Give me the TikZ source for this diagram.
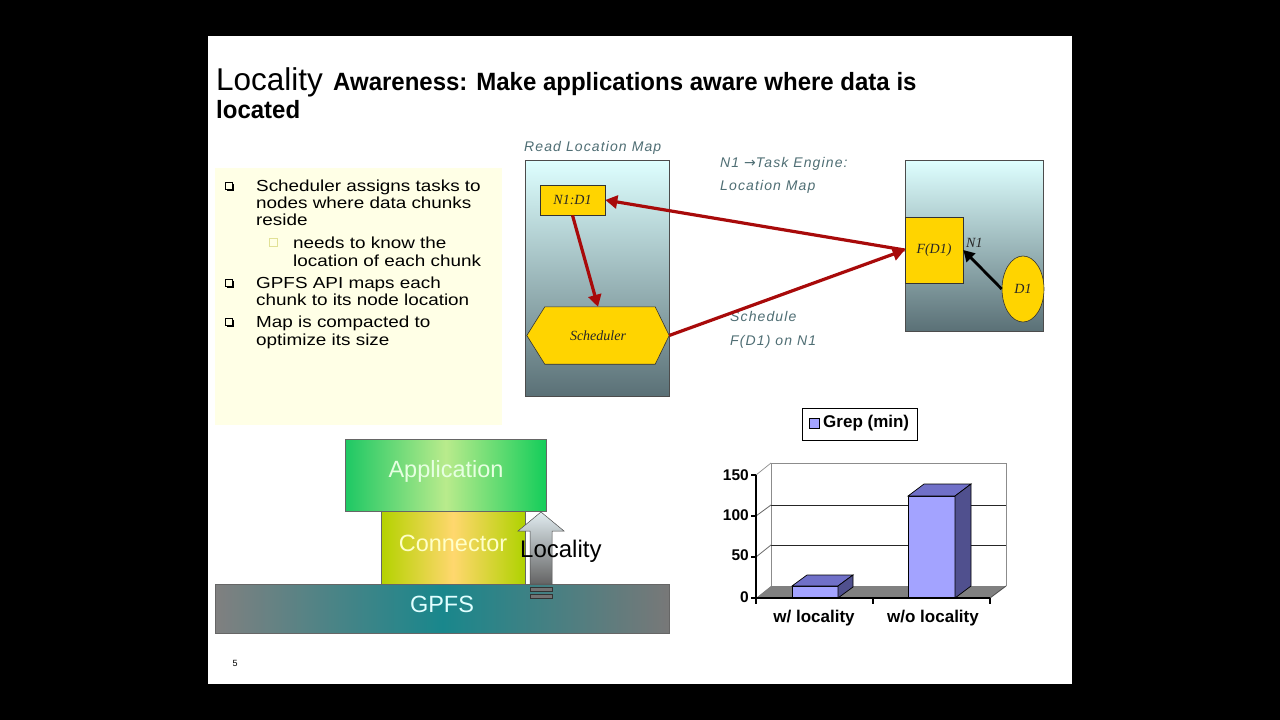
\documentclass[tikz,border=0pt]{standalone}
\usepackage{fontspec}
\setmainfont{Liberation Sans}
\newfontfamily\tnr{Liberation Serif}
\newfontfamily\lblfont{Liberation Sans}[LetterSpace=8]
\newfontfamily\widefont{Liberation Sans}[FakeStretch=1.18]
\newfontfamily\symfont{DejaVu Sans}
\usetikzlibrary{arrows.meta,calc,shapes.geometric}
\definecolor{redarrow}{HTML}{A80A0A}
\definecolor{gold}{HTML}{FFD400}
\definecolor{lblc}{HTML}{4F6E74}
\definecolor{notebg}{HTML}{FFFFE6}
\definecolor{barfront}{HTML}{A3A3FF}
\definecolor{bartop}{HTML}{7070C8}
\definecolor{barside}{HTML}{50508E}
\tikzset{
  every node/.style={inner sep=0pt},
  panel/.style={draw=black!70, line width=0.6pt, top color={rgb,255:red,222;green,255;blue,255}, bottom color={rgb,255:red,90;green,112;blue,118}},
  goldbox/.style={draw=black!80, line width=0.6pt, fill=gold},
  serlbl/.style={font=\tnr\itshape\fontsize{14}{16}\selectfont, text=black!85},
  italbl/.style={font=\lblfont\itshape\fontsize{14}{17}\selectfont, text=lblc},
  redarr/.style={draw=redarrow, line width=3.2pt, -{Triangle[length=12pt,width=13pt]}},
  bul/.style={anchor=base west, font=\widefont\fontsize{16}{17}\selectfont},
  layer/.style={font=\fontsize{23.5}{25}\selectfont},
  ticklbl/.style={anchor=east, font=\bfseries\fontsize{15.5}{16}\selectfont},
  catlbl/.style={font=\bfseries\fontsize{17}{18}\selectfont},
}
\begin{document}
\begin{tikzpicture}[x=1pt,y=-1pt]
\useasboundingbox (0,0) rectangle (1280,720);
\fill[black] (0,0) rectangle (1280,720);
\fill[white] (208,36) rectangle (1072,684);

% title
\node[anchor=base west] (t1) at (216,90) {\fontsize{31.5}{34}\selectfont Locality};
\node[anchor=base west] (t2) at (333,90) {\scalebox{0.96}[1]{\fontsize{25}{28}\selectfont\bfseries Awareness: Make applications aware where data is}};
\node[anchor=base west] (t3) at (216,118) {\scalebox{0.96}[1]{\fontsize{25}{28}\selectfont\bfseries located}};

% notes panel
\node[fill=notebg, minimum width=287pt, minimum height=257pt, anchor=north west] (notes) at (215,168) {};
\foreach \yy in {182,279,318}{
  \draw[line width=0.9pt] (225,\yy) rectangle (232,\yy+7);
  \draw[line width=1.4pt] (233.5,\yy+1.5) -- (233.5,\yy+8.5) -- (226.5,\yy+8.5);
}
\draw[draw={rgb,255:red,225;green,225;blue,150}, line width=0.8pt] (269,238) rectangle (277,246);
\node[bul] (b1) at (256,191) {Scheduler assigns tasks to};
\node[bul] (b2) at (256,208) {nodes where data chunks};
\node[bul] (b3) at (256,225) {reside};
\node[bul] (b4) at (293,248) {needs to know the};
\node[bul] (b5) at (293,266) {location of each chunk};
\node[bul] (b6) at (256,288) {GPFS API maps each};
\node[bul] (b7) at (256,305) {chunk to its node location};
\node[bul] (b8) at (256,327) {Map is compacted to};
\node[bul] (b9) at (256,345) {optimize its size};

% left panel
\node[panel, minimum width=144pt, minimum height=236pt, anchor=north west] (lp) at (525,160) {};
\node[italbl, anchor=base west] (rlm) at (524,151) {Read Location Map};
\node[goldbox, minimum width=65pt, minimum height=30pt, serlbl] (nd) at (572.5,200) {N1:D1};
\node[minimum width=142pt, minimum height=57pt, serlbl] (sched) at (598,335.5) {};
\fill[gold, draw=black!80, line width=0.6pt] (sched.west) -- ($(sched.north west)+(18,0)$) -- ($(sched.north east)+(-14,0)$) -- (sched.east) -- ($(sched.south east)+(-14,0)$) -- ($(sched.south west)+(18,0)$) -- cycle;
\node[serlbl] (schedtxt) at (sched.center) {Scheduler};

% right panel
\node[panel, minimum width=138pt, minimum height=171pt, anchor=north west] (rp) at (905,160) {};
\node[goldbox, minimum width=58pt, minimum height=66pt, serlbl] (fd) at (934,250) {F(D1)};
\node[goldbox, ellipse, minimum width=42pt, minimum height=66pt, serlbl] (d1) at (1023,289) {D1};
\node[serlbl, anchor=west] (n1) at (966,243) {N1};

% labels
\node[italbl, anchor=base west] (te1) at (720,167) {N1 {\symfont\itshape →}Task Engine:};
\node[italbl, anchor=base west] (te2) at (720,190) {Location Map};
\node[italbl, anchor=base west] (sc1) at (730,321) {Schedule};
\node[italbl, anchor=base west] (sc2) at (730,345) {F(D1) on N1};

% arrows
\draw[redarr] (nd.south) -- (sched.north);
\draw[redarr] (fd.west) -- (nd.east);
\draw[redarr] (sched.east) -- (fd.west);
\draw[line width=2.8pt, -{Triangle[length=11pt,width=12pt]}] (d1.west) -- (fd.east);

% stack
\node[minimum width=201pt, minimum height=72pt, anchor=north west, draw=black!60, line width=0.5pt,
  left color={rgb,255:red,30;green,200;blue,100}, right color={rgb,255:red,20;green,205;blue,90}, middle color={rgb,255:red,185;green,235;blue,140}] (app) at (345,439) {};
\node[layer, text={rgb,255:red,230;green,255;blue,225}] (apptxt) at (446,471) {Application};
\node[minimum width=144pt, minimum height=73pt, anchor=north west, draw=black!60, line width=0.5pt,
  left color={rgb,255:red,180;green,210;blue,0}, right color={rgb,255:red,175;green,210;blue,0}, middle color={rgb,255:red,255;green,215;blue,110}] (con) at (381,511) {};
\node[layer, text={rgb,255:red,255;green,255;blue,200}] (contxt) at (453,543) {Connector};
\node[minimum width=454pt, minimum height=49pt, anchor=north west, draw=black!60, line width=0.5pt,
  left color={rgb,255:red,128;green,128;blue,128}, right color={rgb,255:red,120;green,120;blue,120}, middle color={rgb,255:red,25;green,135;blue,140}] (gpfs) at (215,584) {};
\node[layer, text={rgb,255:red,225;green,255;blue,255}] (gpfstxt) at (442,604) {GPFS};

% locality arrow
\shade[top color={rgb,255:red,225;green,236;blue,240}, bottom color={rgb,255:red,100;green,100;blue,100}, draw=black!70, line width=0.5pt]
  (541,512) -- (564,531) -- (552,531) -- (552,584) -- (530,584) -- (530,531) -- (518,531) -- cycle;
\fill[black!55, draw=black!80, line width=0.4pt] (530,587) rectangle (552,591);
\fill[black!55, draw=black!80, line width=0.4pt] (530,594) rectangle (552,598);
\node[anchor=west, font=\fontsize{24}{26}\selectfont] (loc) at (520,551) {Locality};

% chart legend
\node[draw=black, line width=1.2pt, minimum width=115pt, minimum height=32pt, anchor=north west] (leg) at (802,408) {};
\fill[barfront, draw=black, line width=0.6pt] (809,418) rectangle (819,428);
\node[anchor=west, font=\bfseries\fontsize{17}{18}\selectfont] (legtxt) at (823,423) {Grep (min)};

% chart walls
\fill[black!50] (756,598) -- (990,598) -- (1006,586) -- (771,586) -- cycle;
\draw[black!45, line width=0.7pt] (771,586) -- (771,463) -- (1006,463) -- (1006,586);
\draw[black!45, line width=0.7pt] (756,475) -- (771,463);
\draw[black!85, line width=0.9pt] (771,505) -- (1006,505);
\draw[black!85, line width=0.9pt] (771,545) -- (1006,545);
\draw[black!60, line width=0.8pt] (756,516) -- (771,505);
\draw[black!60, line width=0.8pt] (756,557) -- (771,545);
\draw[black!70, line width=0.8pt] (990,598) -- (1006,586);
% bars
\filldraw[fill=barfront, draw=black, line width=0.7pt] (792,586) rectangle (838,598);
\filldraw[fill=bartop, draw=black, line width=0.7pt] (792,586) -- (807,575) -- (853,575) -- (838,586) -- cycle;
\filldraw[fill=barside, draw=black, line width=0.7pt] (838,586) -- (853,575) -- (853,587) -- (838,598) -- cycle;
\filldraw[fill=barfront, draw=black, line width=0.7pt] (908,496) rectangle (955,598);
\filldraw[fill=bartop, draw=black, line width=0.7pt] (908,496) -- (924,484) -- (971,484) -- (955,496) -- cycle;
\filldraw[fill=barside, draw=black, line width=0.7pt] (955,496) -- (971,484) -- (971,586) -- (955,598) -- cycle;
% axes
\draw[black, line width=1.2pt] (756,475) -- (756,598) -- (990,598);
\foreach \yy in {475,516,557,598} \draw[black, line width=1.2pt] (751,\yy) -- (756,\yy);
\foreach \xx in {756,873,990} \draw[black, line width=1.2pt] (\xx,598) -- (\xx,604);
\node[ticklbl] (y150) at (749,475) {150};
\node[ticklbl] (y100) at (749,515) {100};
\node[ticklbl] (y50) at (749,555) {50};
\node[ticklbl] (y0) at (749,597) {0};
\node[catlbl] (c1) at (814,618) {w/ locality};
\node[catlbl] (c2) at (933,618) {w/o locality};

% page number
\node[font=\fontsize{9}{10}\selectfont] (pg) at (235,663) {5};
\end{tikzpicture}
\end{document}
